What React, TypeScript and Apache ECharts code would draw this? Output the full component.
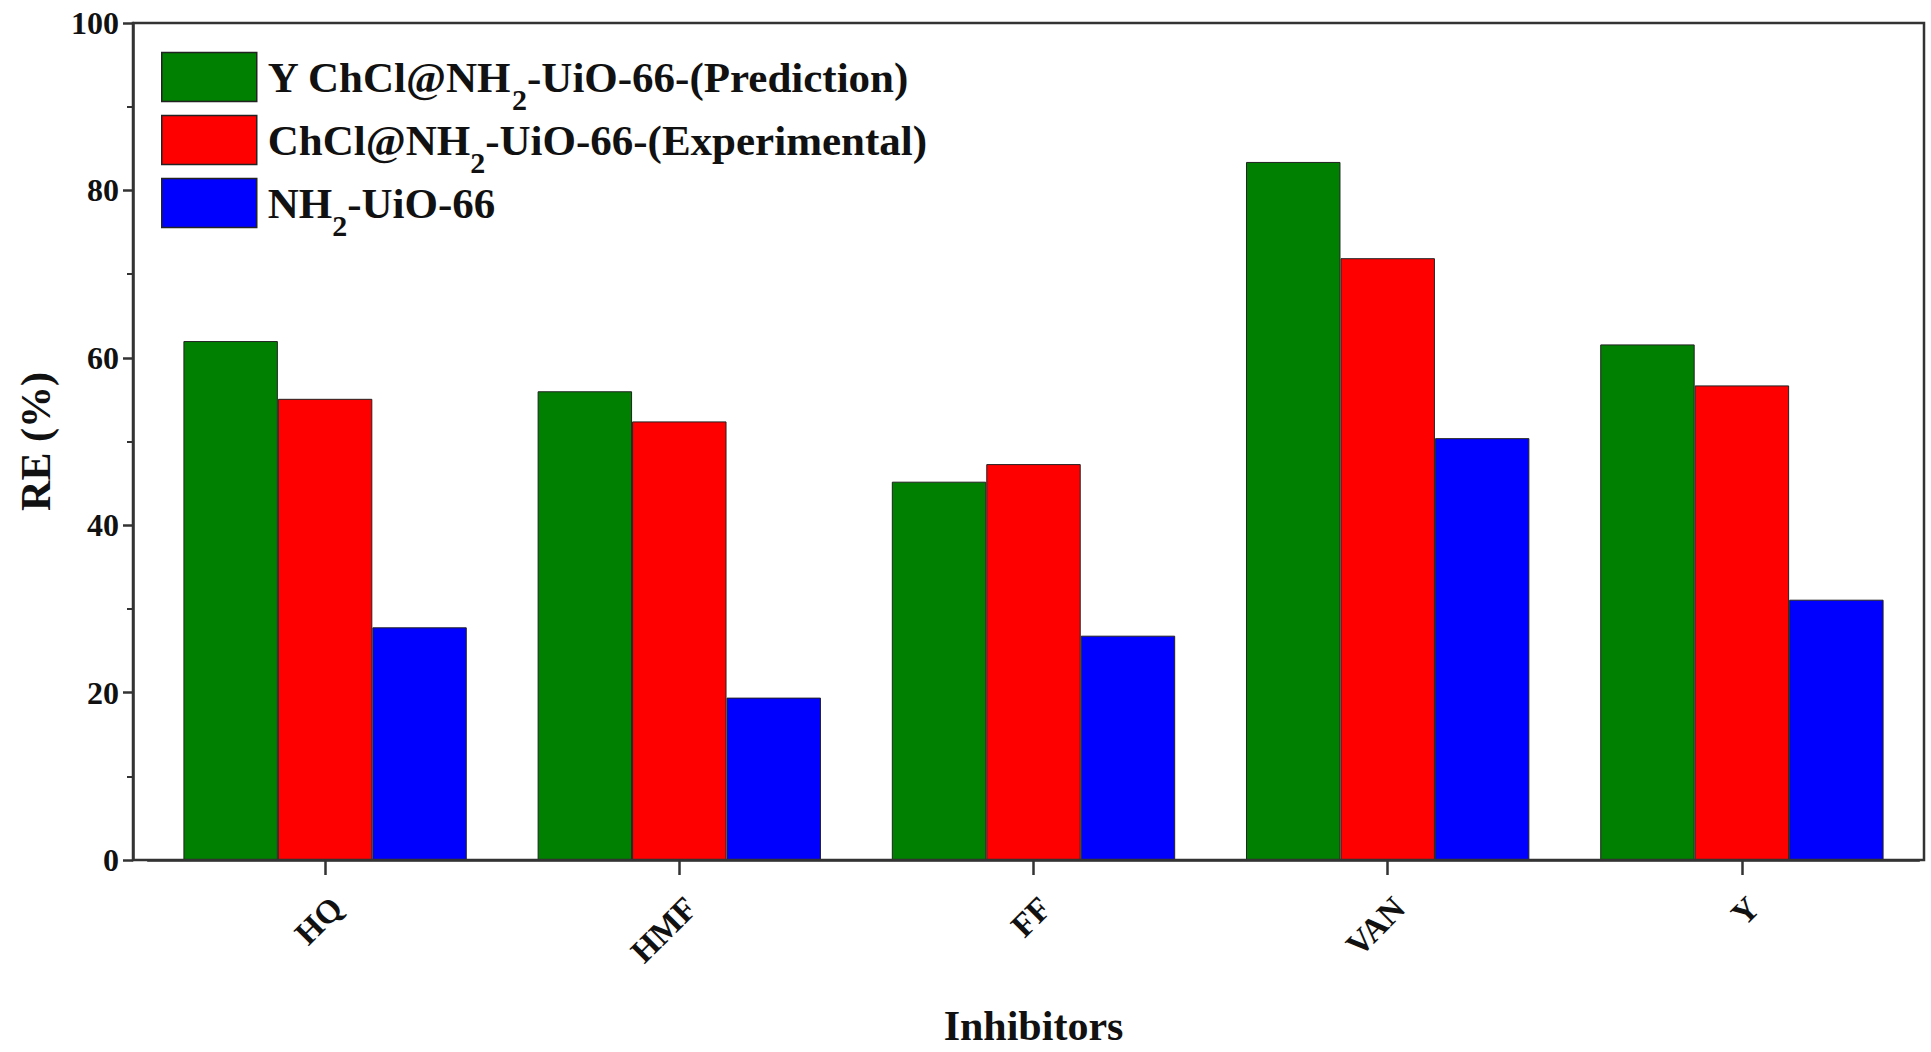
import React, { useEffect, useRef } from "react";
import * as echarts from "echarts";

const categories = ["HQ", "HMF", "FF", "VAN", "Y"];
const seriesNames = [
  "Y ChCl@NH2-UiO-66-(Prediction)",
  "ChCl@NH2-UiO-66-(Experimental)",
  "NH2-UiO-66",
];
const prediction = [62.0, 56.0, 45.2, 83.4, 61.6];
const experimental = [55.1, 52.4, 47.3, 71.9, 56.7];
const nh2UiO66 = [27.8, 19.4, 26.8, 50.4, 31.1];
const seriesValues = [prediction, experimental, nh2UiO66];
const seriesColors = ["#008000", "#ff0000", "#0000ff"];
const yTicks = { min: 0, max: 100, interval: 20 };

const FONT = "'Liberation Serif', 'Times New Roman', serif";
const AXIS_COLOR = "#333333";

export default function App() {
  const ref = useRef<HTMLDivElement>(null);

  useEffect(() => {
    if (!ref.current) return;
    const chart = echarts.init(ref.current, undefined, { renderer: "svg" });

    const legendFormatter = (name: string) => {
      const idx = name.indexOf("NH2");
      if (idx < 0) return `{t|${name}}`;
      const before = name.slice(0, idx);
      const after = name.slice(idx + 3);
      return `{t|${before}NH}{sub|2}{t|${after}}`;
    };

    chart.setOption({
      animation: false,
      backgroundColor: "#ffffff",
      grid: { left: 148, right: 12, top: 23, bottom: 192, containLabel: false },
      legend: {
        orient: "vertical",
        left: 161,
        top: 40,
        padding: 0,
        itemGap: -11,
        itemWidth: 95,
        itemHeight: 49,
        icon: "rect",
        data: seriesNames,
        formatter: legendFormatter,
        itemStyle: { borderColor: "#222", borderWidth: 1.5 },
        textStyle: {
          padding: [0, 0, 0, 6],
          rich: {
            t: {
              fontFamily: FONT,
              fontWeight: "bold",
              fontSize: 43,
              lineHeight: 47,
              color: "#111",
            },
            sub: {
              fontFamily: FONT,
              fontWeight: "bold",
              fontSize: 30,
              lineHeight: 20,
              padding: [44, 0, 0, 0],
              color: "#111",
            },
          },
        },
      },
      xAxis: {
        type: "category",
        data: categories,
        name: "Inhibitors",
        nameLocation: "middle",
        nameGap: 145,
        nameTextStyle: {
          fontFamily: FONT,
          fontWeight: "bold",
          fontSize: 42,
          color: "#111",
        },
        axisLine: { show: true, lineStyle: { color: AXIS_COLOR, width: 2.5 } },
        axisTick: {
          show: true,
          alignWithLabel: true,
          inside: false,
          length: 15,
          lineStyle: { color: AXIS_COLOR, width: 2.5 },
        },
        axisLabel: {
          rotate: 45,
          align: "right",
          verticalAlign: "top",
          margin: 31,
          fontFamily: FONT,
          fontWeight: "bold",
          fontSize: 33,
          color: "#111",
        },
        splitLine: { show: false },
      },
      yAxis: {
        type: "value",
        min: yTicks.min,
        max: yTicks.max,
        interval: yTicks.interval,
        offset: 15,
        name: "RE (%)",
        nameLocation: "middle",
        nameGap: 76,
        nameTextStyle: {
          fontFamily: FONT,
          fontWeight: "bold",
          fontSize: 42,
          color: "#111",
        },
        axisLine: { show: true, lineStyle: { color: AXIS_COLOR, width: 2.5 } },
        axisTick: {
          show: true,
          inside: false,
          length: 10,
          lineStyle: { color: AXIS_COLOR, width: 2.5 },
        },
        minorTick: {
          show: true,
          splitNumber: 2,
          length: 6,
          lineStyle: { color: AXIS_COLOR, width: 2 },
        },
        axisLabel: {
          margin: 14,
          fontFamily: FONT,
          fontWeight: "bold",
          fontSize: 32,
          color: "#111",
        },
        splitLine: { show: false },
      },
      graphic: [
        {
          type: "rect",
          shape: { x: 133, y: 23, width: 1791, height: 837 },
          style: { fill: "none", stroke: AXIS_COLOR, lineWidth: 2.5 },
          silent: true,
          z: 10,
        },
      ],
      series: seriesNames.map((name, i) => ({
        name,
        type: "bar",
        data: seriesValues[i],
        barGap: "0%",
        barCategoryGap: "20%",
        itemStyle: {
          color: seriesColors[i],
          borderColor: "#222",
          borderWidth: 1,
        },
      })),
    });

    return () => chart.dispose();
  }, []);

  return (
    <div
      ref={ref}
      style={{ position: "absolute", left: 0, top: 0, width: 1931, height: 1052 }}
    />
  );
}
